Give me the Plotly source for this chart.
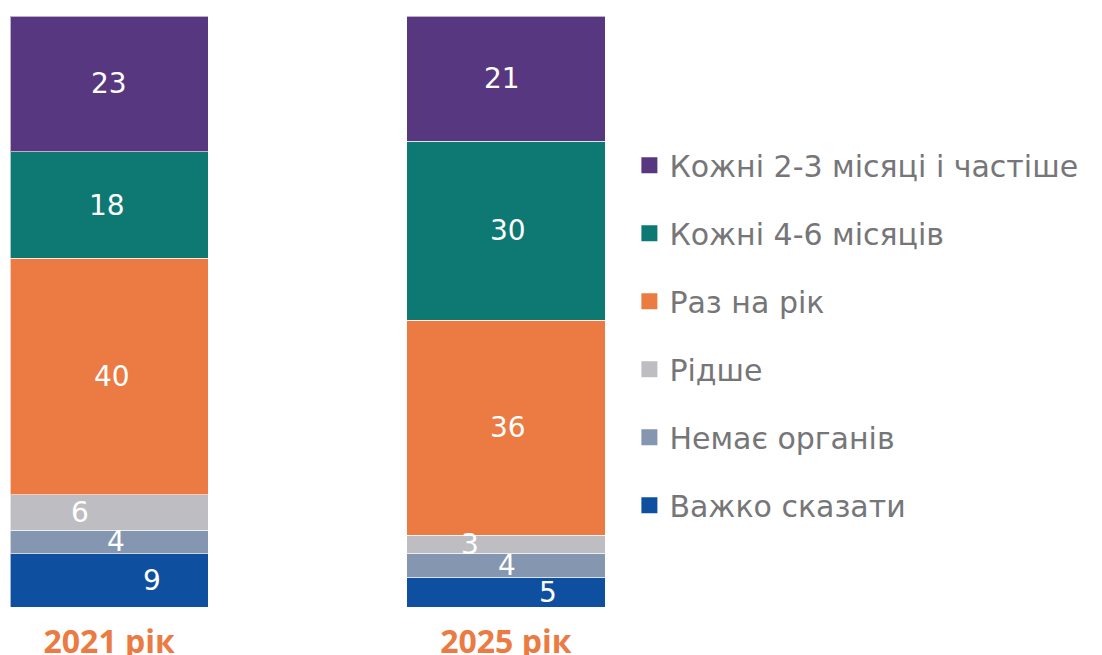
import plotly.graph_objects as go
import numpy as np

years = ["2021 рік", "2025 рік"]
categories = ["Важко сказати", "Немає органів", "Рідше", "Раз на рік",
              "Кожні 4-6 місяців", "Кожні 2-3 місяці і частіше"]
values_2021 = [9, 4, 6, 40, 18, 23]
values_2025 = [5, 4, 3, 36, 30, 21]
colors = ["#0F4FA0", "#8596B0", "#BEBEC2", "#EB7B42", "#0E7872", "#573880"]
label_xshift = [[43, 42], [7, 1], [-29, -36], [3, 2], [-2, 2], [0, -4]]

FONT = "DejaVu Sans"
fig = go.Figure()
series = [values_2021, values_2025]
for i, cat in enumerate(categories):
    fig.add_trace(go.Bar(
        x=years, y=[values_2021[i], values_2025[i]], name=cat,
        marker=dict(color=colors[i], line=dict(color="rgba(255,255,255,0.6)", width=1)),
        showlegend=False, hoverinfo="skip",
    ))

# legend proxies (reverse order so top legend = top segment)
for i in reversed(range(len(categories))):
    fig.add_trace(go.Scatter(
        x=[None], y=[None], mode="markers", name=categories[i],
        marker=dict(symbol="square", size=20, color=colors[i]),
        legendgroup=categories[i], showlegend=True,
    ))

annotations = []
for j, year in enumerate(years):
    vals = np.array(series[j], dtype=float)
    pct = vals / vals.sum() * 100
    cum = np.cumsum(pct)
    for i in range(len(categories)):
        mid = cum[i] - pct[i] / 2
        annotations.append(dict(
            x=year, y=mid, text=str(series[j][i]), showarrow=False,
            xshift=label_xshift[i][j], xref="x", yref="y",
            font=dict(family=FONT, size=28, color="white"),
        ))

fig.update_layout(
    width=1102, height=655,
    margin=dict(l=2, r=505, t=8, b=56),
    barmode="stack", barnorm="percent", bargap=0.5,
    plot_bgcolor="white", paper_bgcolor="white",
    xaxis=dict(range=[-0.25, 1.25], showgrid=False, showline=False, zeroline=False,
               ticks="", ticklabelstandoff=13,
               tickfont=dict(family="Open Sans", size=32, color="#EB7B42", weight="bold")),
    yaxis=dict(range=[0, 100], visible=False),
    legend=dict(x=1.041, xanchor="left", y=0.7915, yanchor="top",
                font=dict(family=FONT, size=30, color="#767678"),
                tracegroupgap=26, bgcolor="rgba(0,0,0,0)",
                traceorder="grouped", itemclick=False),
    annotations=annotations,
)
fig.write_html("out.html")
